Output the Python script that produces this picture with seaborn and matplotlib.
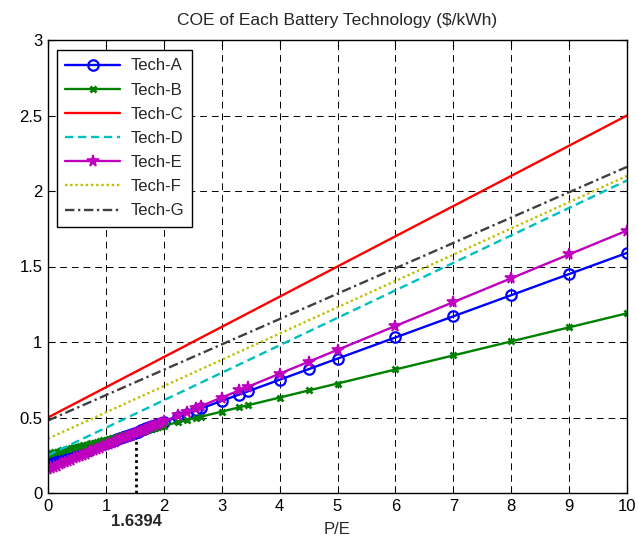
import numpy as np
import pandas as pd
import matplotlib
matplotlib.use("Agg")
import matplotlib.pyplot as plt
import seaborn as sns

# ---- data ----
pe_points = [0, 0.05, 0.1, 0.15, 0.2, 0.25, 0.3, 0.35, 0.4, 0.45, 0.5, 0.55, 0.6,
             0.65, 0.7, 0.75, 0.8, 0.85, 0.9, 0.95, 1.0, 1.05, 1.1, 1.15, 1.2,
             1.25, 1.3, 1.35, 1.4, 1.45, 1.5, 1.55, 1.6, 1.65, 1.7, 1.75, 1.8,
             1.85, 1.9, 1.95, 2.0,
             2.25, 2.4, 2.55, 2.65, 3, 3.3, 3.45, 4, 4.5, 5, 6, 7, 8, 9, 10]
tech_a = [0.190, 0.197, 0.204, 0.211, 0.218, 0.225, 0.232, 0.239, 0.246, 0.253,
          0.260, 0.267, 0.274, 0.281, 0.288, 0.295, 0.302, 0.309, 0.316, 0.323,
          0.330, 0.337, 0.344, 0.351, 0.358, 0.365, 0.372, 0.379, 0.386, 0.393,
          0.400, 0.407, 0.414, 0.421, 0.428, 0.435, 0.442, 0.449, 0.456, 0.463,
          0.470,
          0.505, 0.526, 0.547, 0.561, 0.610, 0.652, 0.673, 0.750, 0.820,
          0.890, 1.030, 1.170, 1.310, 1.450, 1.590]
tech_b = [0.260, 0.265, 0.269, 0.274, 0.279, 0.283, 0.288, 0.293, 0.297, 0.302,
          0.307, 0.311, 0.316, 0.320, 0.325, 0.330, 0.334, 0.339, 0.344, 0.348,
          0.353, 0.358, 0.362, 0.367, 0.372, 0.376, 0.381, 0.386, 0.390, 0.395,
          0.400, 0.404, 0.409, 0.413, 0.418, 0.423, 0.427, 0.432, 0.437, 0.441,
          0.446,
          0.469, 0.483, 0.497, 0.506, 0.539, 0.567, 0.581, 0.632, 0.679,
          0.725, 0.818, 0.911, 1.004, 1.097, 1.190]
tech_e = [0.158, 0.166, 0.174, 0.182, 0.190, 0.198, 0.205, 0.213, 0.221, 0.229,
          0.237, 0.245, 0.253, 0.261, 0.269, 0.277, 0.284, 0.292, 0.300, 0.308,
          0.316, 0.324, 0.332, 0.340, 0.348, 0.356, 0.363, 0.371, 0.379, 0.387,
          0.395, 0.403, 0.411, 0.419, 0.427, 0.435, 0.442, 0.450, 0.458, 0.466,
          0.474,
          0.514, 0.537, 0.561, 0.577, 0.632, 0.679, 0.703, 0.790, 0.869,
          0.948, 1.106, 1.264, 1.422, 1.580, 1.738]
pe_ends = [0, 10]
tech_c = [0.50, 2.50]
tech_d = [0.25, 2.07]
tech_f = [0.36, 2.10]
tech_g = [0.48, 2.16]

marker_x = 1.52
marker_top = 0.365
marker_label = "1.6394"

title = "COE of Each Battery Technology ($/kWh)"
xlabel = "P/E"
xticks = list(range(0, 11))
yticks = [0, 0.5, 1, 1.5, 2, 2.5, 3]
ytick_labels = ["0", "0.5", "1", "1.5", "2", "2.5", "3"]

# ---- style ----
sns.set_style("ticks")
plt.rcParams["font.family"] = ["Liberation Sans", "DejaVu Sans"]

fig = plt.figure(figsize=(6.38, 5.38), dpi=100)
ax = fig.add_axes([48 / 638, 1 - 493 / 538, (627 - 48) / 638, (493 - 40) / 538])

series = [
    ("Tech-A", pe_points, tech_a, dict(color=(0, 0, 1), linestyle="-", marker="o",
                                       markersize=7.5, markerfacecolor="none",
                                       markeredgecolor=(0, 0, 1),
                                       markeredgewidth=1.6)),
    ("Tech-B", pe_points, tech_b, dict(color=(0, 0.5, 0), linestyle="-", marker="x",
                                       markersize=4, markeredgewidth=2,
                                       markeredgecolor=(0, 0.5, 0))),
    ("Tech-C", pe_ends, tech_c, dict(color=(1, 0, 0), linestyle="-", marker="")),
    ("Tech-D", pe_ends, tech_d, dict(color=(0, 0.75, 0.75), linestyle=(0, (3.5, 2)),
                                     marker="")),
    ("Tech-E", pe_points, tech_e, dict(color=(0.75, 0, 0.75), linestyle="-", marker="*",
                                       markersize=8.5, markeredgewidth=1.2,
                                       markerfacecolor=(0.75, 0, 0.75),
                                       markeredgecolor=(0.75, 0, 0.75))),
    ("Tech-F", pe_ends, tech_f, dict(color=(0.75, 0.75, 0), linestyle=(0, (1, 1.2)),
                                     marker="")),
    ("Tech-G", pe_ends, tech_g, dict(color=(0.25, 0.25, 0.25),
                                     linestyle=(0, (4, 1.5, 1, 1.5)), marker="")),
]

for name, xs, ys, kw in series:
    df = pd.DataFrame({"x": xs, "y": ys})
    n_before = len(ax.lines)
    sns.lineplot(data=df, x="x", y="y", ax=ax, label=name, sort=False,
                 estimator=None)
    line = ax.lines[n_before]
    line.set(linewidth=1.7, **kw)

# dotted marker line
n_before = len(ax.lines)
sns.lineplot(x=[marker_x, marker_x], y=[0, marker_top], ax=ax, estimator=None,
             sort=False, legend=False)
ax.lines[n_before].set(color="black", linestyle=(0, (1, 1.2)), linewidth=2,
                       marker="")

ax.set_xlim(0, 10)
ax.set_ylim(0, 3)
ax.set_xticks(xticks)
ax.set_yticks(yticks)
ax.set_yticklabels(ytick_labels)
ax.set_xlabel("")
ax.set_ylabel("")
ax.grid(True, color="black", linestyle=(0, (7, 5)), linewidth=0.7)
ax.tick_params(direction="in", top=True, right=True, length=5, width=0.8,
               labelsize=12, colors="black", pad=4)
for s in ax.spines.values():
    s.set_visible(True)
    s.set_color("black")
    s.set_linewidth(1.0)

ax.set_title(title, fontsize=12.5, pad=11)

fig.text((48 + marker_x * 57.9) / 638, 1 - 522 / 538, marker_label,
         ha="center", va="center", fontsize=12, fontweight="bold")
fig.text((48 + 627) / 2 / 638, 1 - 529 / 538, xlabel, ha="center", va="center",
         fontsize=12)

handles, labels = ax.get_legend_handles_labels()
leg = ax.legend(handles, labels, loc="upper left", fontsize=12, handlelength=3.3,
                handletextpad=0.6, bbox_to_anchor=(9 / 579, 1 - 10 / 453),
                borderaxespad=0, labelspacing=0.55, fancybox=False,
                framealpha=1, edgecolor="black", borderpad=0.5)
leg.get_frame().set_linewidth(1.0)

fig.savefig("out.png", dpi=100)
